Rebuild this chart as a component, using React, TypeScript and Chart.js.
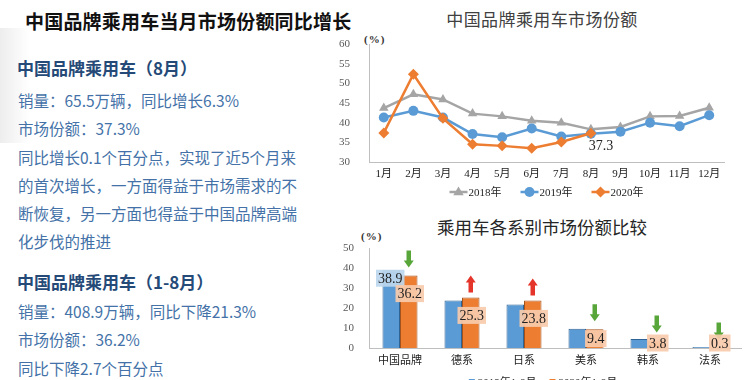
import React, { useEffect, useRef } from "react";
import { Chart, registerables } from "chart.js";

Chart.register(...registerables);

// ---------- data ----------
const months = ["1月", "2月", "3月", "4月", "5月", "6月", "7月", "8月", "9月", "10月", "11月", "12月"];
const lineSeriesLabels = ["2018年", "2019年", "2020年"];
const share2018 = [43.7, 47.2, 45.9, 42.3, 41.6, 40.5, 40.0, 38.3, 38.9, 41.6, 41.7, 43.8];
const share2019 = [41.3, 43.0, 41.3, 37.1, 36.3, 38.5, 36.5, 37.2, 37.7, 40.0, 39.1, 41.9];
const share2020 = [37.4, 52.3, 41.1, 34.5, 34.1, 33.5, 35.1, 37.3];
const lineYMin = 30;
const lineYMax = 60;
const lineYStep = 5;

const brandGroups = ["中国品牌", "德系", "日系", "美系", "韩系", "法系"];
const barSeriesLabels = ["2019年1-8月", "2020年1-8月"];
const shareJanAug2019 = [38.9, 23.7, 21.8, 9.6, 4.5, 0.5];
const shareJanAug2020 = [36.2, 25.3, 23.8, 9.4, 3.8, 0.3];
const labelled2019 = [true, false, false, false, false, false];
const barYMin = 0;
const barYMax = 50;
const barYStep = 10;

// ---------- styling ----------
const SERIF = "'Liberation Serif', 'Noto Sans CJK SC', serif";
const SANS = "'Noto Sans CJK SC', 'Noto Sans', sans-serif";
const GRAY = "#a5a5a5";
const BLUE = "#5b9bd5";
const ORANGE = "#ed7d31";
const AXIS = "#bfbfbf";

function drawMarker(ctx: CanvasRenderingContext2D, style: string, x: number, y: number, r: number, color: string) {
  ctx.save();
  ctx.fillStyle = color;
  ctx.beginPath();
  if (style === "triangle") {
    ctx.moveTo(x, y - r);
    ctx.lineTo(x + r * 0.95, y + r * 0.6);
    ctx.lineTo(x - r * 0.95, y + r * 0.6);
    ctx.closePath();
  } else if (style === "rectRot") {
    ctx.moveTo(x, y - r);
    ctx.lineTo(x + r, y);
    ctx.lineTo(x, y + r);
    ctx.lineTo(x - r, y);
    ctx.closePath();
  } else {
    ctx.arc(x, y, r, 0, Math.PI * 2);
  }
  ctx.fill();
  ctx.restore();
}

const lineDecorPlugin = {
  id: "lineDecor",
  afterDatasetsDraw(chart: any) {
    const ctx: CanvasRenderingContext2D = chart.ctx;
    const meta = chart.getDatasetMeta(2);
    const lastIdx = share2020.length - 1;
    const pt = meta.data[lastIdx];
    if (pt) {
      ctx.save();
      ctx.font = `14px ${SERIF}`;
      ctx.fillStyle = "#262626";
      ctx.textAlign = "center";
      ctx.textBaseline = "middle";
      ctx.fillText(share2020[lastIdx].toFixed(1), pt.x + 10, pt.y + 13);
      ctx.restore();
    }
  },
  afterDraw(chart: any) {
    const ctx: CanvasRenderingContext2D = chart.ctx;
    const { left, right } = chart.chartArea;
    ctx.save();
    ctx.font = `11px ${SERIF}`;
    const ds = chart.data.datasets;
    const lineLen = 18;
    const gap = 1;
    const spacing = 19;
    const widths = ds.map((d: any) => lineLen + gap + ctx.measureText(d.label).width);
    const total = widths.reduce((a: number, b: number) => a + b, 0) + spacing * (ds.length - 1);
    let x = (left + right) / 2 - total / 2;
    const y = 164;
    ds.forEach((d: any, i: number) => {
      ctx.strokeStyle = d.borderColor;
      ctx.lineWidth = 2.5;
      ctx.beginPath();
      ctx.moveTo(x, y);
      ctx.lineTo(x + lineLen, y);
      ctx.stroke();
      drawMarker(ctx, d.pointStyle, x + lineLen / 2, y, d.pointRadius, d.borderColor);
      ctx.fillStyle = "#262626";
      ctx.textAlign = "left";
      ctx.textBaseline = "middle";
      ctx.fillText(d.label, x + lineLen + gap, y + 1);
      x += widths[i] + spacing;
    });
    ctx.restore();
  },
};

function drawArrow(ctx: CanvasRenderingContext2D, x: number, bottom: number, up: boolean) {
  const len = 17;
  const shaftW = 4.5;
  const headW = 10;
  const headLen = 7;
  const top = bottom - len;
  ctx.save();
  ctx.fillStyle = up ? "#e5352b" : "#58a63a";
  ctx.beginPath();
  if (up) {
    ctx.moveTo(x, top);
    ctx.lineTo(x + headW / 2, top + headLen);
    ctx.lineTo(x + shaftW / 2, top + headLen);
    ctx.lineTo(x + shaftW / 2, bottom);
    ctx.lineTo(x - shaftW / 2, bottom);
    ctx.lineTo(x - shaftW / 2, top + headLen);
    ctx.lineTo(x - headW / 2, top + headLen);
  } else {
    ctx.moveTo(x - shaftW / 2, top);
    ctx.lineTo(x + shaftW / 2, top);
    ctx.lineTo(x + shaftW / 2, bottom - headLen);
    ctx.lineTo(x + headW / 2, bottom - headLen);
    ctx.lineTo(x, bottom);
    ctx.lineTo(x - headW / 2, bottom - headLen);
    ctx.lineTo(x - shaftW / 2, bottom - headLen);
  }
  ctx.closePath();
  ctx.fill();
  ctx.restore();
}

function drawValueLabel(ctx: CanvasRenderingContext2D, text: string, cx: number, cy: number, bg: string) {
  ctx.save();
  ctx.font = `14px ${SERIF}`;
  const w = ctx.measureText(text).width + 4;
  const h = 17;
  ctx.fillStyle = bg;
  ctx.fillRect(cx - w / 2, cy - h / 2, w, h);
  ctx.fillStyle = "#1f1f1f";
  ctx.textAlign = "center";
  ctx.textBaseline = "middle";
  ctx.fillText(text, cx, cy + 1);
  ctx.restore();
}

const barDecorPlugin = {
  id: "barDecor",
  afterDatasetsDraw(chart: any) {
    const ctx: CanvasRenderingContext2D = chart.ctx;
    const m0 = chart.getDatasetMeta(0);
    const m1 = chart.getDatasetMeta(1);
    m1.data.forEach((bar: any, i: number) => {
      const up = shareJanAug2020[i] > shareJanAug2019[i];
      drawArrow(ctx, bar.x, bar.y - (up ? 5 : 8), up);
    });
    m0.data.forEach((bar: any, i: number) => {
      if (!labelled2019[i]) return;
      drawValueLabel(ctx, shareJanAug2019[i].toFixed(1), bar.x - 1, bar.y + 8, "rgba(189,215,238,0.92)");
    });
    m1.data.forEach((bar: any, i: number) => {
      const top = bar.y;
      const base = bar.base;
      const cy = Math.min(top + 18, (top + base) / 2, base - 5);
      drawValueLabel(ctx, shareJanAug2020[i].toFixed(1), bar.x + 1, cy, "rgba(248,203,173,0.92)");
    });
  },
  afterDraw(chart: any) {
    const ctx: CanvasRenderingContext2D = chart.ctx;
    const { left, right } = chart.chartArea;
    ctx.save();
    ctx.font = `11px ${SERIF}`;
    const ds = chart.data.datasets;
    const box = 6;
    const gap = 3;
    const spacing = 13;
    const widths = ds.map((d: any) => box + gap + ctx.measureText(d.label).width);
    const total = widths.reduce((a: number, b: number) => a + b, 0) + spacing * (ds.length - 1);
    let x = (left + right) / 2 - 12 - total / 2;
    const y = 142;
    ds.forEach((d: any, i: number) => {
      ctx.fillStyle = d.backgroundColor;
      ctx.fillRect(x, y - box / 2, box, box);
      ctx.fillStyle = "#262626";
      ctx.textAlign = "left";
      ctx.textBaseline = "middle";
      ctx.fillText(d.label, x + box + gap, y + 1);
      x += widths[i] + spacing;
    });
    ctx.restore();
  },
};

function xAxis(padding: number) {
  return {
    type: "category",
    offset: true,
    grid: { display: false, drawTicks: false, tickLength: 0 },
    border: { display: true, color: AXIS, width: 1 },
    ticks: { font: { family: SERIF, size: 11 }, color: "#222", padding, autoSkip: false, maxRotation: 0 },
    afterFit: (s: any) => {
      s.height = 22;
      s.paddingLeft = 0;
      s.paddingRight = 0;
    },
  };
}

function yAxis(min: number, max: number, step: number, padding: number) {
  return {
    min,
    max,
    grid: { display: false, drawTicks: false, tickLength: 0 },
    border: { display: true, color: AXIS, width: 1 },
    ticks: { stepSize: step, font: { family: SERIF, size: 11 }, color: "#595959", padding },
    afterFit: (s: any) => {
      s.width = 39;
      s.paddingTop = 0;
      s.paddingBottom = 0;
    },
  };
}

function LineChart() {
  const ref = useRef<HTMLCanvasElement>(null);
  useEffect(() => {
    if (!ref.current) return;
    const styles = ["triangle", "circle", "rectRot"];
    const colors = [GRAY, BLUE, ORANGE];
    const radii = [5.5, 5, 5.5];
    const series = [share2018, share2019, share2020];
    const chart = new Chart(ref.current, {
      type: "line",
      data: {
        labels: months,
        datasets: series.map((s, i) => ({
          label: lineSeriesLabels[i],
          data: s,
          borderColor: colors[i],
          backgroundColor: colors[i],
          borderWidth: 2.5,
          pointStyle: styles[i],
          pointRadius: radii[i],
          pointBackgroundColor: colors[i],
          pointBorderColor: colors[i],
          pointBorderWidth: 0,
          tension: 0,
          order: 2 - i,
        })),
      },
      options: {
        animation: false,
        responsive: false,
        devicePixelRatio: 1,
        layout: { padding: { top: 16, right: 20, bottom: 16, left: 0 } },
        scales: {
          x: xAxis(6),
          y: yAxis(lineYMin, lineYMax, lineYStep, 19),
        },
        plugins: { legend: { display: false }, tooltip: { enabled: false }, title: { display: false } },
      } as any,
      plugins: [lineDecorPlugin as any],
    });
    return () => chart.destroy();
  }, []);
  return <canvas ref={ref} width={414} height={172} style={{ position: "absolute", left: 330, top: 28, width: 414, height: 172 }} />;
}

function BarChart() {
  const ref = useRef<HTMLCanvasElement>(null);
  useEffect(() => {
    if (!ref.current) return;
    const chart = new Chart(ref.current, {
      type: "bar",
      data: {
        labels: brandGroups,
        datasets: [
          {
            label: barSeriesLabels[0],
            data: shareJanAug2019,
            backgroundColor: BLUE,
            borderColor: "#2f6497",
            borderWidth: 1,
            categoryPercentage: 0.565,
            barPercentage: 1,
          },
          {
            label: barSeriesLabels[1],
            data: shareJanAug2020,
            backgroundColor: ORANGE,
            borderColor: "#a4521c",
            borderWidth: 1,
            categoryPercentage: 0.565,
            barPercentage: 1,
          },
        ],
      },
      options: {
        animation: false,
        responsive: false,
        devicePixelRatio: 1,
        layout: { padding: { top: 8, right: 3, bottom: 20, left: 0 } },
        scales: {
          x: xAxis(7),
          y: yAxis(barYMin, barYMax, barYStep, 15),
        },
        plugins: { legend: { display: false }, tooltip: { enabled: false }, title: { display: false } },
      } as any,
      plugins: [barDecorPlugin as any],
    });
    return () => chart.destroy();
  }, []);
  return <canvas ref={ref} width={414} height={150} style={{ position: "absolute", left: 330, top: 240, width: 414, height: 150 }} />;
}

const leftLines: { text: string; cy: number; kind: "h" | "b" }[] = [
  { text: "中国品牌乘用车（8月）", cy: 68, kind: "h" },
  { text: "销量：65.5万辆，同比增长6.3%", cy: 100, kind: "b" },
  { text: "市场份额：37.3%", cy: 128, kind: "b" },
  { text: "同比增长0.1个百分点，实现了近5个月来", cy: 156.5, kind: "b" },
  { text: "的首次增长，一方面得益于市场需求的不", cy: 185, kind: "b" },
  { text: "断恢复，另一方面也得益于中国品牌高端", cy: 213, kind: "b" },
  { text: "化步伐的推进", cy: 241, kind: "b" },
  { text: "中国品牌乘用车（1-8月）", cy: 282, kind: "h" },
  { text: "销量：408.9万辆，同比下降21.3%", cy: 310.5, kind: "b" },
  { text: "市场份额：36.2%", cy: 339, kind: "b" },
  { text: "同比下降2.7个百分点", cy: 367.5, kind: "b" },
];

export default function App() {
  return (
    <div style={{ position: "absolute", left: 0, top: 0, width: 744, height: 380, overflow: "hidden", background: "#fff", fontFamily: SANS }}>
      <div style={{ position: "absolute", left: 0, top: 28, width: 30, height: 115, background: "linear-gradient(to right, rgba(0,0,0,0.07), rgba(0,0,0,0))" }} />
      <div style={{ position: "absolute", left: 25, top: 9, lineHeight: "24px", fontSize: 19, fontWeight: 700, color: "#111", whiteSpace: "nowrap", letterSpacing: 0.2 }}>
        中国品牌乘用车当月市场份额同比增长
      </div>
      {leftLines.map((l, i) => (
        <div
          key={i}
          style={{
            position: "absolute",
            left: l.kind === "h" ? 17 : 18,
            top: l.cy - 11,
            lineHeight: "22px",
            fontSize: l.kind === "h" ? 17 : 15.5,
            fontWeight: l.kind === "h" ? 700 : 400,
            color: l.kind === "h" ? "#254a78" : "#4472a8",
            whiteSpace: "nowrap",
          }}
        >
          {l.text}
        </div>
      ))}
      <div style={{ position: "absolute", left: 392, top: 7, width: 300, textAlign: "center", lineHeight: "24px", fontSize: 17, letterSpacing: 0.4, color: "#404040", whiteSpace: "nowrap" }}>
        中国品牌乘用车市场份额
      </div>
      <div style={{ position: "absolute", left: 364, top: 32, lineHeight: "14px", fontSize: 11, fontWeight: 700, fontFamily: SERIF, color: "#333", letterSpacing: 1 }}>
        (%)
      </div>
      <div style={{ position: "absolute", left: 392, top: 215, width: 300, textAlign: "center", lineHeight: "24px", fontSize: 17.5, color: "#262626", whiteSpace: "nowrap" }}>
        乘用车各系别市场份额比较
      </div>
      <div style={{ position: "absolute", left: 361, top: 229, lineHeight: "14px", fontSize: 11, fontWeight: 700, fontFamily: SERIF, color: "#333", letterSpacing: 1 }}>
        (%)
      </div>
      <LineChart />
      <BarChart />
    </div>
  );
}
